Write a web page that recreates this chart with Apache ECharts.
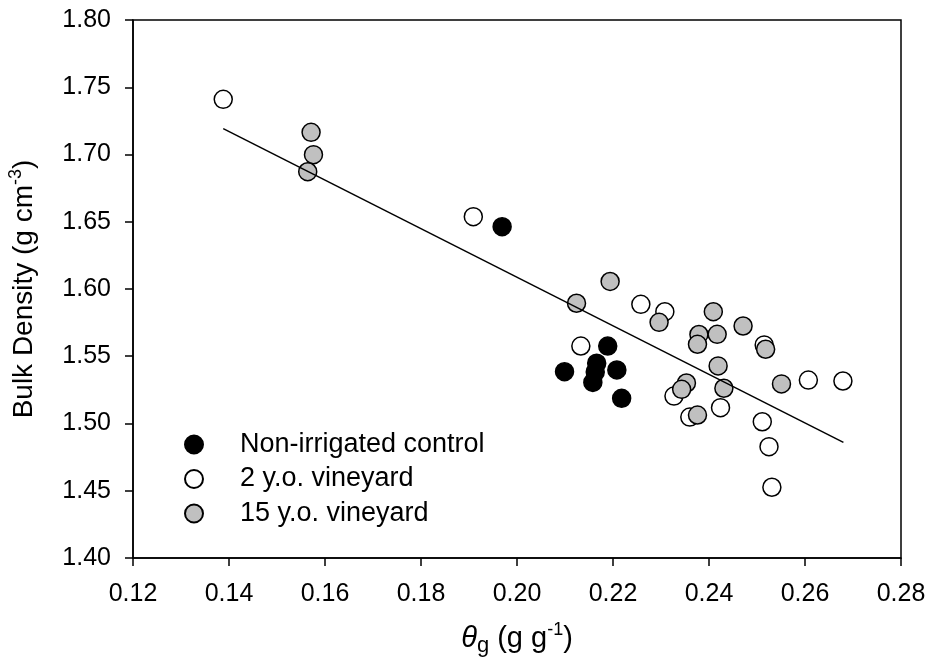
<!DOCTYPE html>
<html>
<head>
<meta charset="utf-8">
<script src="https://cdn.jsdelivr.net/npm/echarts@6/dist/echarts.min.js"></script>
<style>
  html, body { margin: 0; padding: 0; background: #fff; }
  #chart { width: 929px; height: 658px; }
</style>
</head>
<body>
<div id="chart"></div>
<script>
// Gravimetric water content (g g-1) vs bulk density (g cm-3)
const controlTheta = [0.1969, 0.2189, 0.2099, 0.2166, 0.2163, 0.2158, 0.2208, 0.2218];
const controlBD    = [1.6463, 1.5576, 1.5385, 1.5448, 1.5383, 1.5305, 1.5398, 1.5187];

const young2Theta = [0.1388, 0.1909, 0.2133, 0.2258, 0.2308, 0.2515, 0.2327, 0.2424, 0.2360, 0.2607, 0.2679, 0.2511, 0.2525, 0.2531];
const young2BD    = [1.7410, 1.6538, 1.5576, 1.5886, 1.5831, 1.5584, 1.5204, 1.5118, 1.5048, 1.5323, 1.5316, 1.5013, 1.4828, 1.4526];

const old15Theta = [0.1571, 0.1576, 0.1564, 0.2194, 0.2124, 0.2296, 0.2409, 0.2379, 0.2417, 0.2376, 0.2471, 0.2518, 0.2419, 0.2353, 0.2343, 0.2431, 0.2551, 0.2376];
const old15BD    = [1.7165, 1.6999, 1.6872, 1.6056, 1.5894, 1.5752, 1.5831, 1.5662, 1.5663, 1.5589, 1.5725, 1.5552, 1.5428, 1.5301, 1.5254, 1.5262, 1.5294, 1.5063];

// Linear fit endpoints
const fitTheta = [0.1388, 0.2680];
const fitBD    = [1.7192, 1.4860];

const seriesNames = ['Non-irrigated control', '2 y.o. vineyard', '15 y.o. vineyard'];

const xTicks = { min: 0.12, max: 0.28, step: 0.02 };
const yTicks = { min: 1.40, max: 1.80, step: 0.05 };

const zip = (a, b) => a.map((v, i) => [v, b[i]]);

const FONT = 'Liberation Sans, Arial, sans-serif';
const TICK_FS = 25;
const TEXT_FS = 27;

const chart = echarts.init(document.getElementById('chart'), null, { renderer: 'canvas' });

const markerBase = {
  type: 'scatter',
  symbol: 'circle',
  symbolSize: 18,
  z: 3
};

chart.setOption({
  animation: false,
  backgroundColor: '#fff',
  textStyle: { fontFamily: FONT },
  grid: {
    left: 133, top: 20, right: 28, bottom: 100,
    containLabel: false,
    outerBoundsMode: 'none',
    show: true, borderColor: '#000', borderWidth: 1.5, backgroundColor: 'transparent'
  },
  legend: {
    orient: 'vertical',
    left: 184, top: 431,
    padding: 0,
    itemWidth: 18, itemHeight: 18, itemGap: 7.5,
    icon: 'circle',
    data: seriesNames,
    textStyle: { fontFamily: FONT, fontSize: TEXT_FS, color: '#000', padding: [0, 0, 0, 32] }
  },
  xAxis: {
    type: 'value',
    min: xTicks.min, max: xTicks.max, interval: xTicks.step,
    axisLine: { show: true, onZero: false, lineStyle: { color: '#000', width: 1.5 } },
    axisTick: { show: true, length: 8, lineStyle: { color: '#000', width: 1.5 } },
    splitLine: { show: false },
    axisLabel: { color: '#000', fontSize: TICK_FS, fontFamily: FONT, margin: 24, formatter: v => v.toFixed(2) },
    name: '{th|θ}{sub|g}{n| (g g}{sup|-1}{n|)}',
    nameLocation: 'middle',
    nameGap: 63,
    nameTextStyle: {
      color: '#000', fontFamily: FONT, fontSize: TEXT_FS,
      rich: {
        th: { fontSize: 29, fontStyle: 'italic', fontFamily: FONT, color: '#000', lineHeight: 36, verticalAlign: 'middle' },
        n: { fontSize: 29, fontFamily: FONT, color: '#000', lineHeight: 36, verticalAlign: 'middle' },
        sub: { fontSize: 22, fontFamily: FONT, color: '#000', lineHeight: 36, verticalAlign: 'bottom' },
        sup: { fontSize: 18, fontFamily: FONT, color: '#000', lineHeight: 36, verticalAlign: 'top' }
      }
    }
  },
  yAxis: {
    type: 'value',
    min: yTicks.min, max: yTicks.max, interval: yTicks.step,
    axisLine: { show: true, onZero: false, lineStyle: { color: '#000', width: 1.5 } },
    axisTick: { show: true, length: 8, lineStyle: { color: '#000', width: 1.5 } },
    splitLine: { show: false },
    axisLabel: { color: '#000', fontSize: TICK_FS, fontFamily: FONT, margin: 22, formatter: v => v.toFixed(2) },
    name: '{n|Bulk Density (g cm}{sup|-3}{n|)}',
    nameLocation: 'middle',
    nameRotate: 90,
    nameGap: 92,
    nameTextStyle: {
      color: '#000', fontFamily: FONT, fontSize: TEXT_FS,
      rich: {
        n: { fontSize: 28, fontFamily: FONT, color: '#000', lineHeight: 34, verticalAlign: 'middle' },
        sup: { fontSize: 18, fontFamily: FONT, color: '#000', lineHeight: 34, verticalAlign: 'top' }
      }
    }
  },
  series: [
    Object.assign({}, markerBase, {
      name: seriesNames[0],
      data: zip(controlTheta, controlBD),
      itemStyle: { color: '#000', borderColor: '#000', borderWidth: 1.5, opacity: 1 }
    }),
    Object.assign({}, markerBase, {
      name: seriesNames[1],
      data: zip(young2Theta, young2BD),
      itemStyle: { color: '#fff', borderColor: '#000', borderWidth: 1.5, opacity: 1 }
    }),
    Object.assign({}, markerBase, {
      name: seriesNames[2],
      data: zip(old15Theta, old15BD),
      itemStyle: { color: '#c0c0c0', borderColor: '#000', borderWidth: 1.5, opacity: 1 }
    }),
    {
      type: 'line',
      name: 'fit',
      data: zip(fitTheta, fitBD),
      showSymbol: false,
      symbol: 'none',
      lineStyle: { color: '#000', width: 1.5 },
      z: 4,
      silent: true
    }
  ]
});
</script>
</body>
</html>
